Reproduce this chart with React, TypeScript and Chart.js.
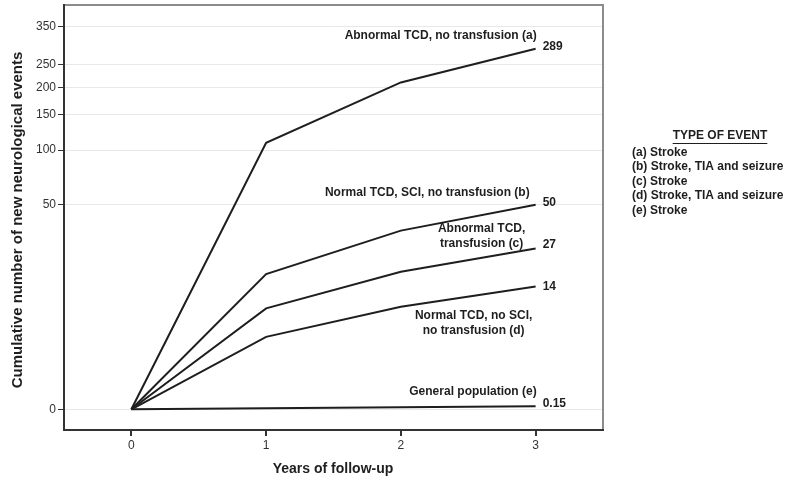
import React, { useEffect, useRef } from "react";
import { Chart, registerables } from "chart.js";

Chart.register(...registerables);

const YEARS = [0, 1, 2, 3];
const SERIES_A = [0, 109, 210, 289];
const SERIES_B = [0, 18.3, 35, 50];
const SERIES_C = [0, 10.3, 19, 27];
const SERIES_D = [0, 5.9, 10.6, 15];
const SERIES_E = [0, 0.05, 0.1, 0.15];
const Y_TICKS = [0, 50, 100, 150, 200, 250, 350];
const X_TICKS = [0, 1, 2, 3];
const END_LABELS = ["289", "50", "27", "14", "0.15"];
const SERIES_NAMES = [
  ["Abnormal TCD, no transfusion (a)"],
  ["Normal TCD, SCI, no transfusion (b)"],
  ["Abnormal TCD,", "transfusion (c)"],
  ["Normal TCD, no SCI,", "no transfusion (d)"],
  ["General population (e)"],
];
const LEGEND_TITLE = "TYPE OF EVENT";
const LEGEND_ITEMS = [
  "(a) Stroke",
  "(b) Stroke, TIA and seizure",
  "(c) Stroke",
  "(d) Stroke, TIA and seizure",
  "(e) Stroke",
];

// Compressed y-scale (log-like at the low end, power-like at the high end)
const T = (v: number) => 72.52 * Math.log(1 + v / 3.5) + 0.1368 * v;

const ALL_SERIES = [SERIES_A, SERIES_B, SERIES_C, SERIES_D, SERIES_E];

// label layout relative to each series' final point
const NAME_LAYOUT: Array<{ dx: number; dy: number[]; align: CanvasTextAlign }> = [
  { dx: 1, dy: [-13], align: "right" },
  { dx: -6, dy: [-12], align: "right" },
  { dx: -54, dy: [-20, -5], align: "center" },
  { dx: -62, dy: [29, 44], align: "center" },
  { dx: 1, dy: [-15], align: "right" },
];
const END_DY = [-2, -2, -4, 0, -3];

const FONT = "'Liberation Sans', Arial, sans-serif";

const annotPlugin = {
  id: "annot",
  beforeDatasetsDraw(chart: any) {
    const { ctx, chartArea } = chart;
    const { left, right, top, bottom } = chartArea;
    ctx.save();
    ctx.lineWidth = 2;
    ctx.strokeStyle = "#8c8c8c";
    ctx.beginPath();
    ctx.moveTo(left, top);
    ctx.lineTo(right, top);
    ctx.lineTo(right, bottom);
    ctx.stroke();
    ctx.strokeStyle = "#333333";
    ctx.beginPath();
    ctx.moveTo(left, top - 1);
    ctx.lineTo(left, bottom);
    ctx.lineTo(right + 1, bottom);
    ctx.stroke();
    ctx.restore();
  },
  afterDraw(chart: any) {
    const { ctx } = chart;
    const xs = chart.scales.x;
    const ys = chart.scales.y;
    ctx.save();
    ctx.fillStyle = "#1e1e1e";
    ctx.textBaseline = "middle";
    ctx.font = `bold 12px ${FONT}`;
    ALL_SERIES.forEach((s, i) => {
      const last = s.length - 1;
      const px = xs.getPixelForValue(YEARS[last]);
      const py = ys.getPixelForValue(T(s[last]));
      ctx.textAlign = "left";
      ctx.fillText(END_LABELS[i], px + 7, py + END_DY[i]);
      const lay = NAME_LAYOUT[i];
      ctx.textAlign = lay.align;
      SERIES_NAMES[i].forEach((line, j) => {
        ctx.fillText(line, px + lay.dx, py + lay.dy[j]);
      });
    });

    // axis titles
    ctx.font = `bold 14px ${FONT}`;
    ctx.textAlign = "center";
    ctx.fillText("Years of follow-up", 333, 469);
    ctx.save();
    ctx.translate(18, 220);
    ctx.rotate(-Math.PI / 2);
    ctx.font = `bold 15px ${FONT}`;
    ctx.fillText("Cumulative number of new neurological events", 0, 0);
    ctx.restore();

    // legend block
    ctx.font = `bold 12px ${FONT}`;
    ctx.textAlign = "center";
    ctx.fillText(LEGEND_TITLE, 720, 136);
    const w = ctx.measureText(LEGEND_TITLE).width;
    ctx.strokeStyle = "#1e1e1e";
    ctx.lineWidth = 1;
    ctx.beginPath();
    ctx.moveTo(720 - w / 2, 143.5);
    ctx.lineTo(720 + w / 2, 143.5);
    ctx.stroke();
    ctx.textAlign = "left";
    LEGEND_ITEMS.forEach((t, i) => {
      ctx.fillText(t, 632, 152.3 + i * 14.6);
    });
    ctx.restore();
  },
};

export default function App() {
  const ref = useRef<HTMLCanvasElement | null>(null);
  useEffect(() => {
    if (!ref.current) return;
    Chart.defaults.font.family = FONT;
    const chart = new Chart(ref.current, {
      type: "line",
      data: {
        datasets: ALL_SERIES.map((s, i) => ({
          label: "s" + i,
          data: YEARS.map((x, k) => ({ x, y: T(s[k]) })),
          borderColor: "#1e1e1e",
          borderWidth: 2,
          pointRadius: 0,
          tension: 0,
          fill: false,
        })),
      },
      options: {
        animation: false,
        responsive: true,
        maintainAspectRatio: false,
        layout: { padding: { left: 0, right: 197, top: 5, bottom: 0 } },
        plugins: { legend: { display: false }, tooltip: { enabled: false } },
        scales: {
          x: {
            type: "linear",
            min: -0.5,
            max: 3.5,
            afterBuildTicks: (axis: any) => {
              axis.ticks = X_TICKS.map((v) => ({ value: v }));
            },
            afterFit: (axis: any) => {
              axis.height = 53;
              axis.paddingLeft = 0;
              axis.paddingRight = 0;
            },
            grid: {
              drawOnChartArea: false,
              drawTicks: true,
              tickLength: 6,
              tickColor: "#333333",
              lineWidth: 2,
            },
            border: { display: false },
            ticks: {
              padding: 2,
              color: "#333333",
              font: { size: 12 },
              callback: (v: any) => String(v),
            },
          },
          y: {
            type: "linear",
            min: -20.7,
            max: 404.3,
            afterBuildTicks: (axis: any) => {
              axis.ticks = Y_TICKS.map((v) => ({ value: T(v) }));
            },
            afterFit: (axis: any) => {
              axis.width = 64;
              axis.paddingTop = 0;
              axis.paddingBottom = 0;
            },
            grid: {
              color: "#e8e8e8",
              lineWidth: 1,
              tickLength: 6,
              tickColor: "#333333",
            },
            border: { display: false },
            ticks: {
              padding: 2,
              color: "#333333",
              font: { size: 12 },
              callback: (_v: any, idx: number) => String(Y_TICKS[idx]),
            },
          },
        },
      },
      plugins: [annotPlugin],
    } as any);
    return () => chart.destroy();
  }, []);
  return (
    <div style={{ position: "fixed", left: 0, top: 0, width: 800, height: 483, background: "#fff" }}>
      <canvas ref={ref} />
    </div>
  );
}
